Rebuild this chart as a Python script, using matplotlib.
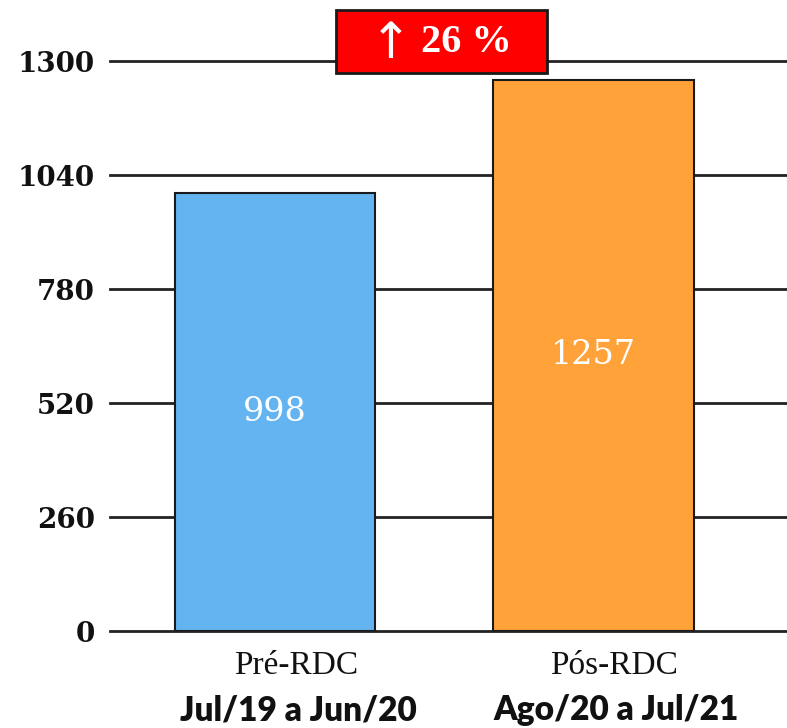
import matplotlib
matplotlib.use("Agg")
import matplotlib.pyplot as plt

# Data
periods = ["Pré-RDC", "Pós-RDC"]
ranges = ["Jul/19 a Jun/20", "Ago/20 a Jul/21"]
values = [998, 1257]
yticks = [0, 260, 520, 780, 1040, 1300]
change_arrow = "↑"
change_text = "26 %"

colors = ["#64B4F2", "#FFA23A"]

fig = plt.figure(figsize=(7.87, 7.28), dpi=100)
ax = fig.add_axes([110 / 787, (728 - 631) / 728, 677 / 787, 570 / 728])

x = list(range(len(values)))
ax.bar(x, values, width=0.628, color=colors, edgecolor="#1a1a1a", linewidth=1.5, zorder=3)

ax.set_xlim(-0.518, 1.6075)
ax.set_ylim(0, 1300)
ax.set_yticks(yticks)
ax.set_yticklabels([str(t) for t in yticks], fontfamily="DejaVu Serif",
                   fontweight="bold", fontsize=20, color="#111111")
ax.tick_params(axis="y", length=0, pad=11)
ax.set_xticks([])
for t in yticks:
    ax.axhline(t, color="#222222", linewidth=2, zorder=1, clip_on=False)
for s in ax.spines.values():
    s.set_visible(False)

# Value labels inside bars
for xi, v in zip(x, values):
    ax.text(xi, v / 2, str(v), ha="center", va="center", color="white",
            fontfamily="DejaVu Serif", fontsize=24, zorder=4)

# Category labels beneath the axis
for xi, p, r in zip(x, periods, ranges):
    ax.annotate(p, xy=(xi, 0), xycoords="data", xytext=(21, -35),
                textcoords="offset pixels", ha="center", va="center",
                fontfamily="Liberation Serif", fontsize=24, color="#111111")
    ax.annotate(r, xy=(xi, 0), xycoords="data", xytext=(23, -79),
                textcoords="offset pixels", ha="center", va="center",
                fontfamily="Lato", fontweight="heavy", fontsize=24, color="#111111")

# Change badge
fig.patches.append(plt.Rectangle((336 / 787, (728 - 73) / 728), 211 / 787, 63 / 728,
                                 transform=fig.transFigure, facecolor="#FF0000",
                                 edgecolor="#1a1a1a", linewidth=2, zorder=5))
fig.text(391 / 787, (728 - 44) / 728, change_arrow, ha="center", va="center",
         color="white", fontfamily="DejaVu Sans", fontsize=36, zorder=6)
fig.text(466 / 787, (728 - 43) / 728, change_text, ha="center", va="center",
         color="white", fontfamily="Liberation Serif",
         fontweight="bold", fontsize=29, zorder=6)

fig.savefig("out.png", dpi=100)
